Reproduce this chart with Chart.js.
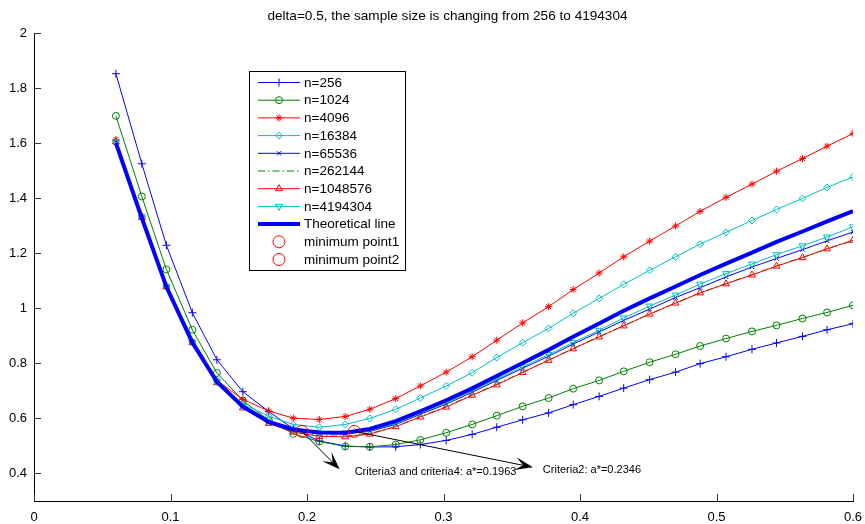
<!DOCTYPE html>
<html>
<head>
<meta charset="utf-8">
<script src="https://cdn.jsdelivr.net/npm/chart.js@4.4.0/dist/chart.umd.min.js"></script>
<style>
  html, body { margin: 0; padding: 0; background: #fff; }
</style>
</head>
<body>
<canvas id="c" width="865" height="524"></canvas>
<script>
// values
var xs = [0.060, 0.079, 0.097, 0.116, 0.134, 0.153, 0.172, 0.190, 0.209, 0.228,
          0.246, 0.265, 0.283, 0.302, 0.321, 0.339, 0.358, 0.377, 0.395, 0.414,
          0.432, 0.451, 0.470, 0.488, 0.507, 0.526, 0.544, 0.563, 0.581, 0.600]

var n256 = [1.852, 1.525, 1.229, 0.984, 0.813, 0.697, 0.625, 0.562, 0.518, 0.500,
            0.496, 0.497, 0.505, 0.520, 0.542, 0.568, 0.595, 0.620, 0.650, 0.680,
            0.710, 0.741, 0.768, 0.799, 0.824, 0.851, 0.874, 0.898, 0.922, 0.944]
var n1024 = [1.699, 1.406, 1.141, 0.922, 0.765, 0.665, 0.593, 0.544, 0.516, 0.498,
             0.497, 0.505, 0.522, 0.548, 0.578, 0.610, 0.644, 0.674, 0.708, 0.738,
             0.771, 0.804, 0.833, 0.863, 0.890, 0.916, 0.938, 0.963, 0.985, 1.011]
var n4096 = [1.613, 1.335, 1.080, 0.880, 0.738, 0.669, 0.627, 0.601, 0.596, 0.607,
             0.633, 0.672, 0.718, 0.768, 0.824, 0.884, 0.947, 1.006, 1.068, 1.128,
             1.187, 1.244, 1.299, 1.352, 1.403, 1.451, 1.498, 1.544, 1.589, 1.635]
var n16384 = [1.607, 1.332, 1.080, 0.878, 0.736, 0.652, 0.608, 0.578, 0.568, 0.578,
              0.600, 0.633, 0.674, 0.718, 0.766, 0.821, 0.875, 0.927, 0.982, 1.036,
              1.087, 1.138, 1.187, 1.233, 1.276, 1.319, 1.359, 1.399, 1.439, 1.477]
var n65536 = [1.603, 1.330, 1.078, 0.876, 0.732, 0.643, 0.586, 0.557, 0.545, 0.544,
              0.553, 0.578, 0.615, 0.652, 0.695, 0.738, 0.782, 0.826, 0.870, 0.914,
              0.956, 0.997, 1.039, 1.075, 1.114, 1.150, 1.181, 1.213, 1.245, 1.277]
var n262144 = [1.604, 1.330, 1.078, 0.875, 0.731, 0.640, 0.583, 0.551, 0.537, 0.535,
               0.545, 0.570, 0.607, 0.643, 0.686, 0.724, 0.768, 0.812, 0.854, 0.897,
               0.937, 0.979, 1.019, 1.056, 1.090, 1.122, 1.154, 1.185, 1.216, 1.246]
var n1048576 = [1.605, 1.330, 1.078, 0.875, 0.730, 0.638, 0.582, 0.550, 0.535, 0.533,
                0.543, 0.570, 0.605, 0.641, 0.684, 0.722, 0.767, 0.811, 0.853, 0.896,
                0.936, 0.979, 1.019, 1.056, 1.089, 1.121, 1.153, 1.184, 1.216, 1.247]
var n4194304 = [1.604, 1.331, 1.079, 0.877, 0.733, 0.645, 0.588, 0.559, 0.547, 0.547,
                0.556, 0.582, 0.620, 0.657, 0.700, 0.743, 0.787, 0.832, 0.876, 0.920,
                0.965, 1.008, 1.048, 1.088, 1.126, 1.161, 1.195, 1.227, 1.259, 1.296]
var theory = [1.600, 1.328, 1.078, 0.876, 0.733, 0.643, 0.587, 0.560, 0.549, 0.548,
              0.562, 0.590, 0.626, 0.666, 0.709, 0.754, 0.801, 0.849, 0.897, 0.945,
              0.991, 1.036, 1.079, 1.121, 1.162, 1.202, 1.241, 1.279, 1.316, 1.353]

var minX = [0.1963, 0.2346]
var minY = [0.553, 0.553]
var noteText = ['Criteria3 and criteria4: a*=0.1963', 'Criteria2: a*=0.2346']

var xTicks = [0, 0.1, 0.2, 0.3, 0.4, 0.5, 0.6]
var yTicks = [0.4, 0.6, 0.8, 1, 1.2, 1.4, 1.6, 1.8, 2]
var titleText = 'delta=0.5, the sample size is changing from 256 to 4194304'

var BLUE = '#0000ff', GREEN = '#008000', RED = '#ff0000', CYAN = '#00bfbf'
var FONT = '"Liberation Sans", Arial, Helvetica, sans-serif'

function pts(ys) {
  return ys.map(function (y, i) { return { x: xs[i], y: y } })
}

function series(label, ys, color, style, extra) {
  var d = {
    label: label,
    data: pts(ys),
    borderColor: color,
    backgroundColor: 'rgba(0,0,0,0)',
    pointBorderColor: color,
    pointBackgroundColor: 'rgba(0,0,0,0)',
    borderWidth: 1,
    pointBorderWidth: 1,
    pointStyle: style,
    pointRadius: 3.5,
    pointHoverRadius: 3.5,
    tension: 0
  }
  for (var k in extra) d[k] = extra[k]
  return d
}

var datasets = [
  series('n=256', n256, BLUE, 'cross', { pointRadius: 4 }),
  series('n=1024', n1024, GREEN, 'circle', {}),
  series('n=4096', n4096, RED, 'star', { pointRadius: 3.5, pointBackgroundColor: RED }),
  series('n=16384', n16384, CYAN, 'rectRot', { pointRadius: 3.5 }),
  series('n=65536', n65536, BLUE, 'crossRot', { pointRadius: 3 }),
  series('n=262144', n262144, GREEN, false, { pointRadius: 0, borderDash: [7, 3, 1.5, 3] }),
  series('n=1048576', n1048576, RED, 'triangle', { pointRadius: 4 }),
  series('n=4194304', n4194304, CYAN, 'triangle', { pointRadius: 4, pointRotation: 180 }),
  series('Theoretical line', theory, BLUE, false, { pointRadius: 0, borderWidth: 4 }),
  {
    label: 'minimum point1', data: [{ x: minX[0], y: minY[0] }], showLine: false,
    pointStyle: 'circle', pointRadius: 6, pointBorderColor: RED, borderColor: RED,
    pointBackgroundColor: 'rgba(0,0,0,0)', pointBorderWidth: 1
  },
  {
    label: 'minimum point2', data: [{ x: minX[1], y: minY[1] }], showLine: false,
    pointStyle: 'circle', pointRadius: 6, pointBorderColor: RED, borderColor: RED,
    pointBackgroundColor: 'rgba(0,0,0,0)', pointBorderWidth: 1
  }
]
// later series sit on top, like the original plot
datasets.forEach(function (d, i) { d.order = datasets.length - i })

function arrow(ctx, x0, y0, x1, y1) {
  var a = Math.atan2(y1 - y0, x1 - x0)
  var len = 18, w = 6.5, back = 0.55
  var cx = x1 - Math.cos(a) * len * back, cy = y1 - Math.sin(a) * len * back
  ctx.beginPath()
  ctx.moveTo(x0, y0)
  ctx.lineTo(cx, cy)
  ctx.stroke()
  ctx.beginPath()
  ctx.moveTo(x1, y1)
  ctx.lineTo(x1 - Math.cos(a) * len - Math.sin(a) * w, y1 - Math.sin(a) * len + Math.cos(a) * w)
  ctx.lineTo(cx, cy)
  ctx.lineTo(x1 - Math.cos(a) * len + Math.sin(a) * w, y1 - Math.sin(a) * len - Math.cos(a) * w)
  ctx.closePath()
  ctx.fill()
}

var decor = {
  id: 'decor',
  afterDraw: function (chart) {
    var ctx = chart.ctx, area = chart.chartArea
    var sx = chart.scales.x, sy = chart.scales.y
    ctx.save()

    // inward ticks
    ctx.strokeStyle = '#333'
    ctx.lineWidth = 1
    xTicks.forEach(function (v) {
      var px = Math.round(sx.getPixelForValue(v)) + 0.5
      ctx.beginPath(); ctx.moveTo(px, area.bottom); ctx.lineTo(px, area.bottom - 7); ctx.stroke()
    })
    yTicks.forEach(function (v) {
      var py = Math.round(sy.getPixelForValue(v)) + 0.5
      ctx.beginPath(); ctx.moveTo(area.left, py); ctx.lineTo(area.left + 7, py); ctx.stroke()
    })

    // title
    ctx.fillStyle = '#000'
    ctx.font = '13.6px ' + FONT
    ctx.textAlign = 'center'
    ctx.textBaseline = 'middle'
    ctx.fillText(titleText, (area.left + area.right) / 2 + 4, 16)

    // arrows with notes
    var tips = [[0.2239, 0.415], [0.3655, 0.4225]]
    var notes = [[0.2349, 0.4065], [0.3728, 0.4126]]
    ctx.strokeStyle = '#000'
    ctx.fillStyle = '#000'
    for (var i = 0; i < 2; i++) {
      arrow(ctx, sx.getPixelForValue(minX[i]), sy.getPixelForValue(minY[i]),
            sx.getPixelForValue(tips[i][0]), sy.getPixelForValue(tips[i][1]))
    }
    ctx.font = '11px ' + FONT
    ctx.textAlign = 'left'
    for (var j = 0; j < 2; j++) {
      ctx.fillText(noteText[j], sx.getPixelForValue(notes[j][0]), sy.getPixelForValue(notes[j][1]))
    }

    // legend box
    var bx = 249, by = 71, bw = 156, bh = 199
    ctx.fillStyle = '#fff'
    ctx.fillRect(bx, by, bw, bh)
    ctx.strokeStyle = '#000'
    ctx.strokeRect(bx + 0.5, by + 0.5, bw, bh)
    ctx.font = '13.5px ' + FONT
    datasets.forEach(function (d, k) {
      var ly = 82.5 + k * 17.7
      if (d.showLine !== false) {
        ctx.strokeStyle = d.borderColor
        ctx.lineWidth = d.borderWidth
        ctx.setLineDash(d.borderDash || [])
        ctx.beginPath(); ctx.moveTo(258, ly); ctx.lineTo(300, ly); ctx.stroke()
        ctx.setLineDash([])
      }
      if (d.pointStyle && d.pointRadius > 0) {
        ctx.strokeStyle = d.pointBorderColor
        ctx.fillStyle = d.pointBackgroundColor
        ctx.lineWidth = 1
        Chart.helpers.drawPoint(ctx, {
          pointStyle: d.pointStyle, radius: d.pointRadius,
          rotation: d.pointRotation || 0, borderWidth: 1
        }, 279, ly)
      }
      ctx.fillStyle = '#000'
      ctx.textBaseline = 'middle'
      ctx.fillText(d.label, 304, ly + 0.5)
    })
    ctx.restore()
  }
}

new Chart(document.getElementById('c').getContext('2d'), {
  type: 'line',
  data: { datasets: datasets },
  options: {
    responsive: false,
    animation: false,
    events: [],
    layout: { padding: { top: 33, right: 12, left: 0, bottom: 0 } },
    plugins: { legend: { display: false }, tooltip: { enabled: false }, title: { display: false } },
    scales: {
      x: {
        type: 'linear', min: 0, max: 0.6,
        afterBuildTicks: function (s) { s.ticks = xTicks.map(function (v) { return { value: v } }) },
        afterFit: function (s) { s.height = 23; s.paddingLeft = 0; s.paddingRight = 0 },
        grid: { display: false, drawTicks: false },
        border: { display: true, color: '#000', width: 1 },
        ticks: {
          color: '#000', padding: 9, maxRotation: 0, autoSkip: false,
          font: { family: FONT, size: 13 },
          callback: function (v) { return String(Math.round(v * 10) / 10) }
        }
      },
      y: {
        type: 'linear', min: 0.3, max: 2,
        afterBuildTicks: function (s) { s.ticks = yTicks.map(function (v) { return { value: v } }) },
        afterFit: function (s) { s.width = 34; s.paddingTop = 0; s.paddingBottom = 0 },
        grid: { display: false, drawTicks: false },
        border: { display: true, color: '#000', width: 1 },
        ticks: {
          color: '#000', padding: 7, autoSkip: false,
          font: { family: FONT, size: 13 },
          callback: function (v) { return String(Math.round(v * 10) / 10) }
        }
      }
    }
  },
  plugins: [decor]
})
</script>
</body>
</html>
